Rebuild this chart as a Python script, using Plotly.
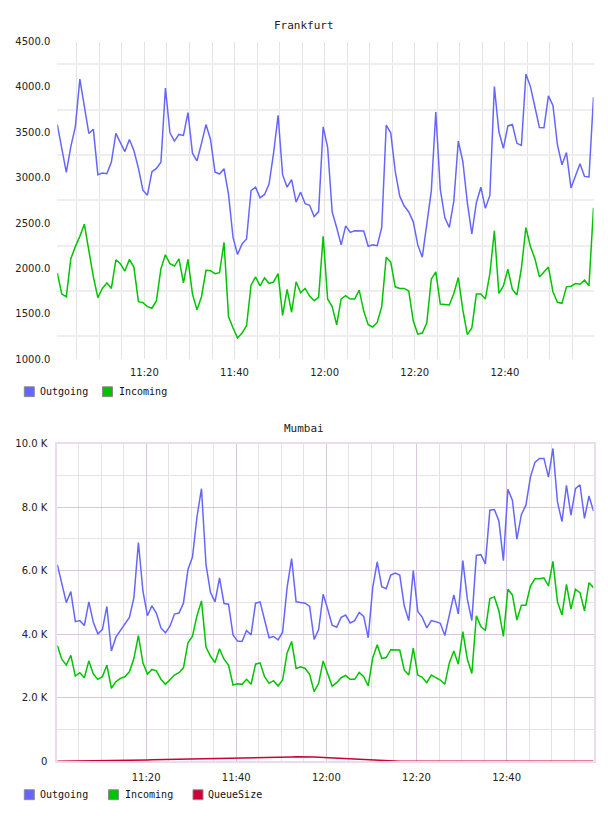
import pandas as pd
import plotly.graph_objects as go

# ---------------- data ----------------
frank_outgoing = [3585, 3323, 3058, 3342, 3560, 4086, 3778, 3487, 3534, 3033,
                  3051, 3044, 3171, 3487, 3385, 3287, 3421, 3298, 3105, 2862,
                  2807, 3065, 3102, 3171, 3988, 3494, 3403, 3476, 3465, 3716,
                  3269, 3185, 3378, 3585, 3421, 3062, 3040, 3098, 2815, 2342,
                  2153, 2269, 2324, 2858, 2895, 2778, 2815, 2931, 3269, 3687,
                  3033, 2895, 2978, 2731, 2840, 2713, 2695, 2571, 2626, 3560,
                  3334, 2622, 2451, 2259, 2469, 2397, 2415, 2415, 2411, 2244,
                  2259, 2251, 2451, 3578, 3494, 3069, 2796, 2687, 2622, 2513,
                  2259, 2124, 2469, 2851, 3723, 2869, 2560, 2451, 2742, 3403,
                  3178, 2724, 2379, 2724, 2895, 2662, 2804, 4003, 3505, 3323,
                  3570, 3585, 3378, 3356, 4141, 4003, 3778, 3552, 3549, 3901,
                  3796, 3360, 3142, 3276, 2887, 3014, 3153, 3014, 3007, 3887]
frank_incoming = [1950, 1717, 1688, 2106, 2240, 2353, 2487, 2179, 1906, 1677,
                  1779, 1841, 1779, 2095, 2051, 1971, 2099, 2015, 1634, 1623,
                  1579, 1561, 1644, 1997, 2150, 2051, 2026, 2106, 1841, 2099,
                  1717, 1543, 1688, 1979, 1975, 1942, 1953, 2288, 1470, 1343,
                  1234, 1288, 1368, 1815, 1906, 1808, 1895, 1833, 1852, 1942,
                  1481, 1768, 1517, 1852, 1732, 1779, 1695, 1644, 1681, 2353,
                  1663, 1579, 1379, 1663, 1699, 1663, 1663, 1761, 1532, 1379,
                  1354, 1405, 1579, 2124, 2070, 1797, 1779, 1779, 1750, 1423,
                  1277, 1288, 1397, 1881, 1961, 1608, 1604, 1597, 1724, 1899,
                  1543, 1270, 1343, 1717, 1717, 1663, 1942, 2415, 1724, 1808,
                  1990, 1768, 1706, 2004, 2451, 2240, 2106, 1906, 1961, 2015,
                  1743, 1626, 1615, 1797, 1804, 1833, 1826, 1870, 1808, 2669]

mum_outgoing = [6189, 5587, 4995, 5337, 4392, 4424, 4268, 5015, 4372, 4008,
                4143, 4870, 3468, 3904, 4112, 4320, 4527, 5150, 6885, 5358,
                4579, 4891, 4652, 4195, 4039, 4247, 4631, 4662, 4974, 6033,
                6428, 7695, 8577, 6189, 5306, 5015, 5773, 4964, 4943, 3977,
                3780, 3769, 4112, 3977, 4974, 5015, 4444, 3884, 3925, 3821,
                4060, 5462, 6376, 5015, 4995, 4974, 4870, 3832, 4143, 5254,
                4790, 4280, 4216, 4527, 4600, 4351, 4424, 4683, 4559, 3884,
                5462, 6272, 5493, 5431, 5857, 5919, 5857, 4891, 4424, 6002,
                4714, 4527, 4195, 4424, 4392, 4341, 3956, 4631, 5234, 4631,
                6313, 5099, 4424, 6480, 6500, 6210, 7902, 7923, 7560, 6313,
                8556, 8214, 6988, 7767, 8058, 8941, 9408, 9532, 9532, 8941,
                9844, 8162, 7539, 8681, 7747, 8577, 8702, 7643, 8349, 7871]
mum_incoming = [3645, 3209, 3022, 3333, 2679, 2783, 2627, 3157, 2741, 2575,
                2658, 3022, 2295, 2503, 2606, 2658, 2814, 3229, 3956, 3094,
                2741, 2887, 2845, 2575, 2419, 2554, 2710, 2783, 2939, 3728,
                3936, 4579, 5047, 3593, 3302, 3105, 3541, 3209, 3022, 2399,
                2440, 2419, 2575, 2419, 3053, 3094, 2658, 2451, 2534, 2368,
                2554, 3406, 3769, 2918, 2970, 2918, 2731, 2191, 2451, 3157,
                2770, 2360, 2471, 2627, 2700, 2575, 2575, 2793, 2658, 2368,
                3250, 3666, 3229, 3261, 3510, 3499, 3499, 2866, 2710, 3562,
                2710, 2638, 2471, 2710, 2627, 2554, 2419, 3094, 3468, 3053,
                4081, 3209, 2762, 4579, 4237, 4112, 5119, 5171, 4735, 3925,
                5410, 5234, 4444, 4912, 4912, 5514, 5742, 5742, 5773, 5514,
                6293, 5015, 4600, 5566, 4787, 5410, 5306, 4735, 5618, 5462]
mum_queue = [0, 3, 5, 6, 9, 11, 12, 15, 17, 18,
             20, 22, 24, 25, 27, 30, 31, 33, 35, 37,
             40, 42, 44, 47, 50, 52, 55, 57, 60, 63,
             66, 68, 71, 74, 77, 80, 83, 86, 88, 91,
             95, 98, 101, 104, 107, 110, 113, 117, 120, 123,
             126, 129, 133, 136, 139, 140, 137, 132, 126, 119,
             112, 104, 96, 88, 79, 70, 61, 52, 43, 34,
             25, 17, 10, 5, 2, 0, 0, 0, 0, 0,
             0, 0, 0, 0, 0, 0, 0, 0, 0, 0,
             0, 0, 0, 0, 0, 0, 0, 0, 0, 0,
             0, 0, 0, 0, 0, 0, 0, 0, 0, 0,
             0, 0, 0, 0, 0, 0, 0, 0, 0, 0]

frank_times = pd.date_range("2024-01-01 11:00:40", periods=len(frank_outgoing), freq="60s")
mum_times = pd.date_range("2024-01-01 11:00:17", periods=len(mum_outgoing), freq="60s")

frank_yticks = [1000, 1500, 2000, 2500, 3000, 3500, 4000, 4500]
frank_yticktext = ["1000.0", "1500.0", "2000.0", "2500.0", "3000.0", "3500.0", "4000.0", "4500.0"]
mum_yticks = [0, 2000, 4000, 6000, 8000, 10000]
mum_yticktext = ["0", "2.0 K", "4.0 K", "6.0 K", "8.0 K", "10.0 K"]

series_names = ["Outgoing", "Incoming", "QueueSize"]
series_colors = ["#6666ff", "#00c400", "#cc0033"]

# ---------------- layout helpers ----------------
W, H = 608, 816
def px_x(p):
    return p / W
def px_y(p):
    return 1 - p / H

TICKFONT = dict(family="DejaVu Sans", size=10, color="#222222")
MONO = "DejaVu Sans Mono"

fig = go.Figure()

fig.add_trace(go.Scatter(x=frank_times, y=frank_outgoing, mode="lines", name=series_names[0],
                         line=dict(color=series_colors[0], width=1.5), xaxis="x", yaxis="y"))
fig.add_trace(go.Scatter(x=frank_times, y=frank_incoming, mode="lines", name=series_names[1],
                         line=dict(color=series_colors[1], width=1.5), xaxis="x", yaxis="y"))
fig.add_trace(go.Scatter(x=mum_times, y=mum_outgoing, mode="lines", name=series_names[0],
                         line=dict(color=series_colors[0], width=1.5), xaxis="x2", yaxis="y2"))
fig.add_trace(go.Scatter(x=mum_times, y=mum_incoming, mode="lines", name=series_names[1],
                         line=dict(color=series_colors[1], width=1.5), xaxis="x2", yaxis="y2"))
fig.add_trace(go.Scatter(x=mum_times, y=mum_queue, mode="lines", name=series_names[2],
                         line=dict(color=series_colors[2], width=1.5), xaxis="x2", yaxis="y2"))

xdom = [px_x(57.3), px_x(593.5)]
GRAY_V = "#e4e4e4"
GRAY_H = "#eeeeee"
PURPLE = "#dcc6df"
LAVGRAY = "#e6e1e8"

common_x = dict(
    type="date", domain=xdom, tickformat="%H:%M",
    tick0="2024-01-01 11:00:00", dtick=20 * 60 * 1000,
    ticks="", tickfont=TICKFONT, ticklabelstandoff=6,
    zeroline=False, showline=False,
)

fig.update_layout(
    width=W, height=H, margin=dict(l=0, r=0, t=0, b=0),
    paper_bgcolor="white", plot_bgcolor="white", showlegend=False,
    xaxis=dict(common_x, anchor="y", range=[frank_times[0], frank_times[-1]],
               showgrid=True, gridcolor=GRAY_V, gridwidth=1,
               minor=dict(dtick=5 * 60 * 1000, tick0="2024-01-01 11:00:00",
                          showgrid=True, gridcolor=GRAY_V, gridwidth=1)),
    yaxis=dict(domain=[px_y(359), px_y(37)], range=[1000, 4500],
               tickvals=frank_yticks, ticktext=frank_yticktext,
               ticks="", tickfont=TICKFONT, ticklabelstandoff=6,
               showgrid=False, zeroline=False, showline=False,
               minor=dict(tickmode="array", tickvals=[1250, 1750, 2250, 2750, 3250, 3750, 4250],
                          showgrid=True, gridcolor=GRAY_H, gridwidth=2)),
    xaxis2=dict(common_x, anchor="y2", range=[mum_times[0], mum_times[-1]],
                showgrid=True, gridcolor=PURPLE, gridwidth=1,
                showline=True, mirror=True, linecolor="#eadcee", linewidth=2,
                minor=dict(dtick=5 * 60 * 1000, tick0="2024-01-01 11:00:00",
                           showgrid=True, gridcolor=LAVGRAY, gridwidth=1)),
    yaxis2=dict(domain=[px_y(766.5), px_y(444.5)], range=[0, 10000],
                tickvals=mum_yticks, ticktext=mum_yticktext,
                ticks="", tickfont=TICKFONT, ticklabelstandoff=6,
                showgrid=True, gridcolor=PURPLE, gridwidth=1, zeroline=False,
                showline=True, mirror=True, linecolor="#eadcee", linewidth=2,
                minor=dict(dtick=1000, showgrid=True, gridcolor="#e4e4e4", gridwidth=1)),
)

# titles
fig.add_annotation(text="Frankfurt", x=0.5, y=px_y(20.5), xref="paper", yref="paper",
                   showarrow=False, xanchor="center", yanchor="middle",
                   font=dict(family=MONO, size=11, color="#222222"))
fig.add_annotation(text="Mumbai", x=0.5, y=px_y(429), xref="paper", yref="paper",
                   showarrow=False, xanchor="center", yanchor="middle",
                   font=dict(family=MONO, size=11, color="#222222"))

# legends (drawn as key squares + labels)
def legend_item(sq_x, text_x, cy, name, color):
    fig.add_shape(type="rect", xref="paper", yref="paper",
                  x0=px_x(sq_x), x1=px_x(sq_x + 10), y0=px_y(cy + 5), y1=px_y(cy - 5),
                  fillcolor=color, line=dict(color="#8a8a8a", width=1))
    fig.add_annotation(text=name, x=px_x(text_x), y=px_y(cy), xref="paper", yref="paper",
                       showarrow=False, xanchor="left", yanchor="middle",
                       font=dict(family=MONO, size=10, color="#111111"))

legend_item(24.3, 38, 392, series_names[0], series_colors[0])
legend_item(102.5, 117, 392, series_names[1], series_colors[1])
legend_item(24.3, 38, 800.5, series_names[0], series_colors[0])
legend_item(108.5, 123, 800.5, series_names[1], series_colors[1])
legend_item(193, 205.5, 800.5, series_names[2], series_colors[2])

fig.write_html("out.html")
